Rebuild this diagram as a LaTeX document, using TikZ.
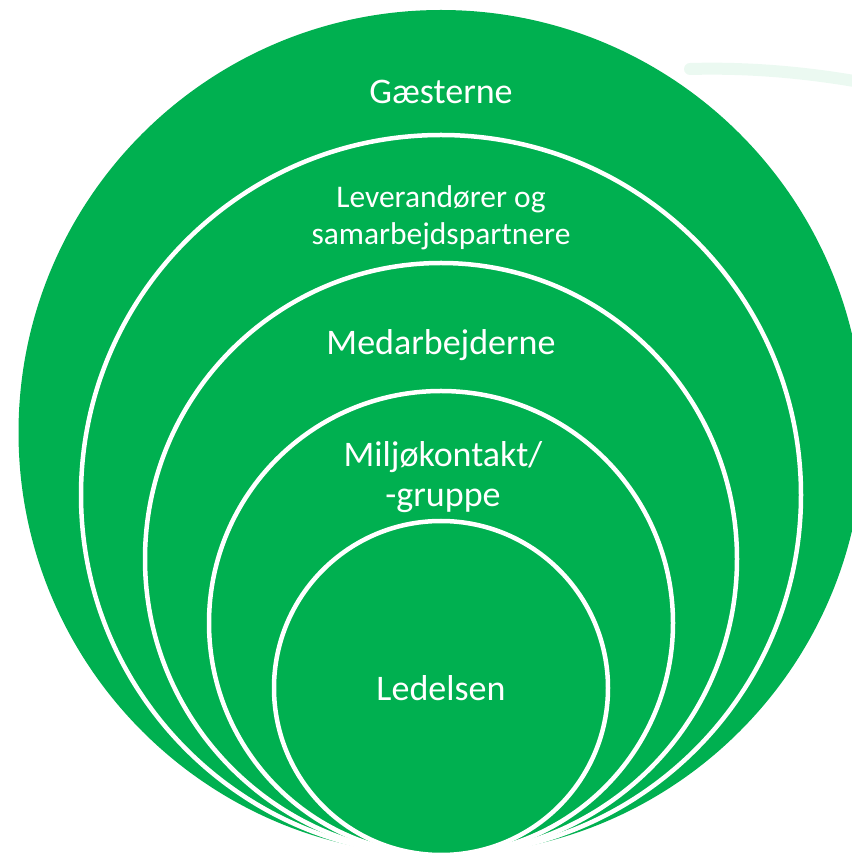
\documentclass[tikz,border=0pt]{standalone}
\usepackage{fontspec}
\setmainfont{Carlito}
\usepackage{tikz}
\usetikzlibrary{positioning, calc}
\definecolor{ringgreen}{HTML}{00B050}

\begin{document}
\begin{tikzpicture}[x=1pt, y=1pt,
    ring/.style={circle, fill=ringgreen, draw=white, line width=4.5pt, inner sep=0pt, outer sep=0pt, anchor=south},
    lbl/.style={text=white, align=center, font=\fontsize{36}{40}\selectfont},
    smalllbl/.style={text=white, align=center, font=\fontsize{31.5}{37}\selectfont}]
    % Page frame
    \useasboundingbox (0,0) rectangle (852,855);
    \clip (0,0) rectangle (852,855);

    % Faint streak at the top right
    \draw[ringgreen!8, line width=12pt, line cap=round] (690,786) .. controls (760,788) and (820,780) .. (860,773);

    % Nested circles, all touching at the bottom point
    \coordinate (base) at (441,0);
    \node[ring, draw=none, minimum size=845pt] (gaester) at (base) {};
    \node[ring, minimum size=720pt] (lever) at (base) {};
    \node[ring, minimum size=592pt] (medarb) at (base) {};
    \node[ring, minimum size=464pt] (miljo) at (base) {};
    \node[ring, minimum size=334pt] (ledelse) at (base) {};

    % Labels
    \node[lbl] (tgaester) at (441,763) {Gæsterne};
    \node[smalllbl] (tlever) at (441,637) {Leverandører og\\samarbejdspartnere};
    \node[lbl] (tmedarb) at (441,510) {Medarbejderne};
    \node[lbl] (tmiljo) at (443,378) {Miljøkontakt/\\-gruppe};
    \node[lbl] (tledelse) at (441,167) {Ledelsen};

\end{tikzpicture}
\end{document}
